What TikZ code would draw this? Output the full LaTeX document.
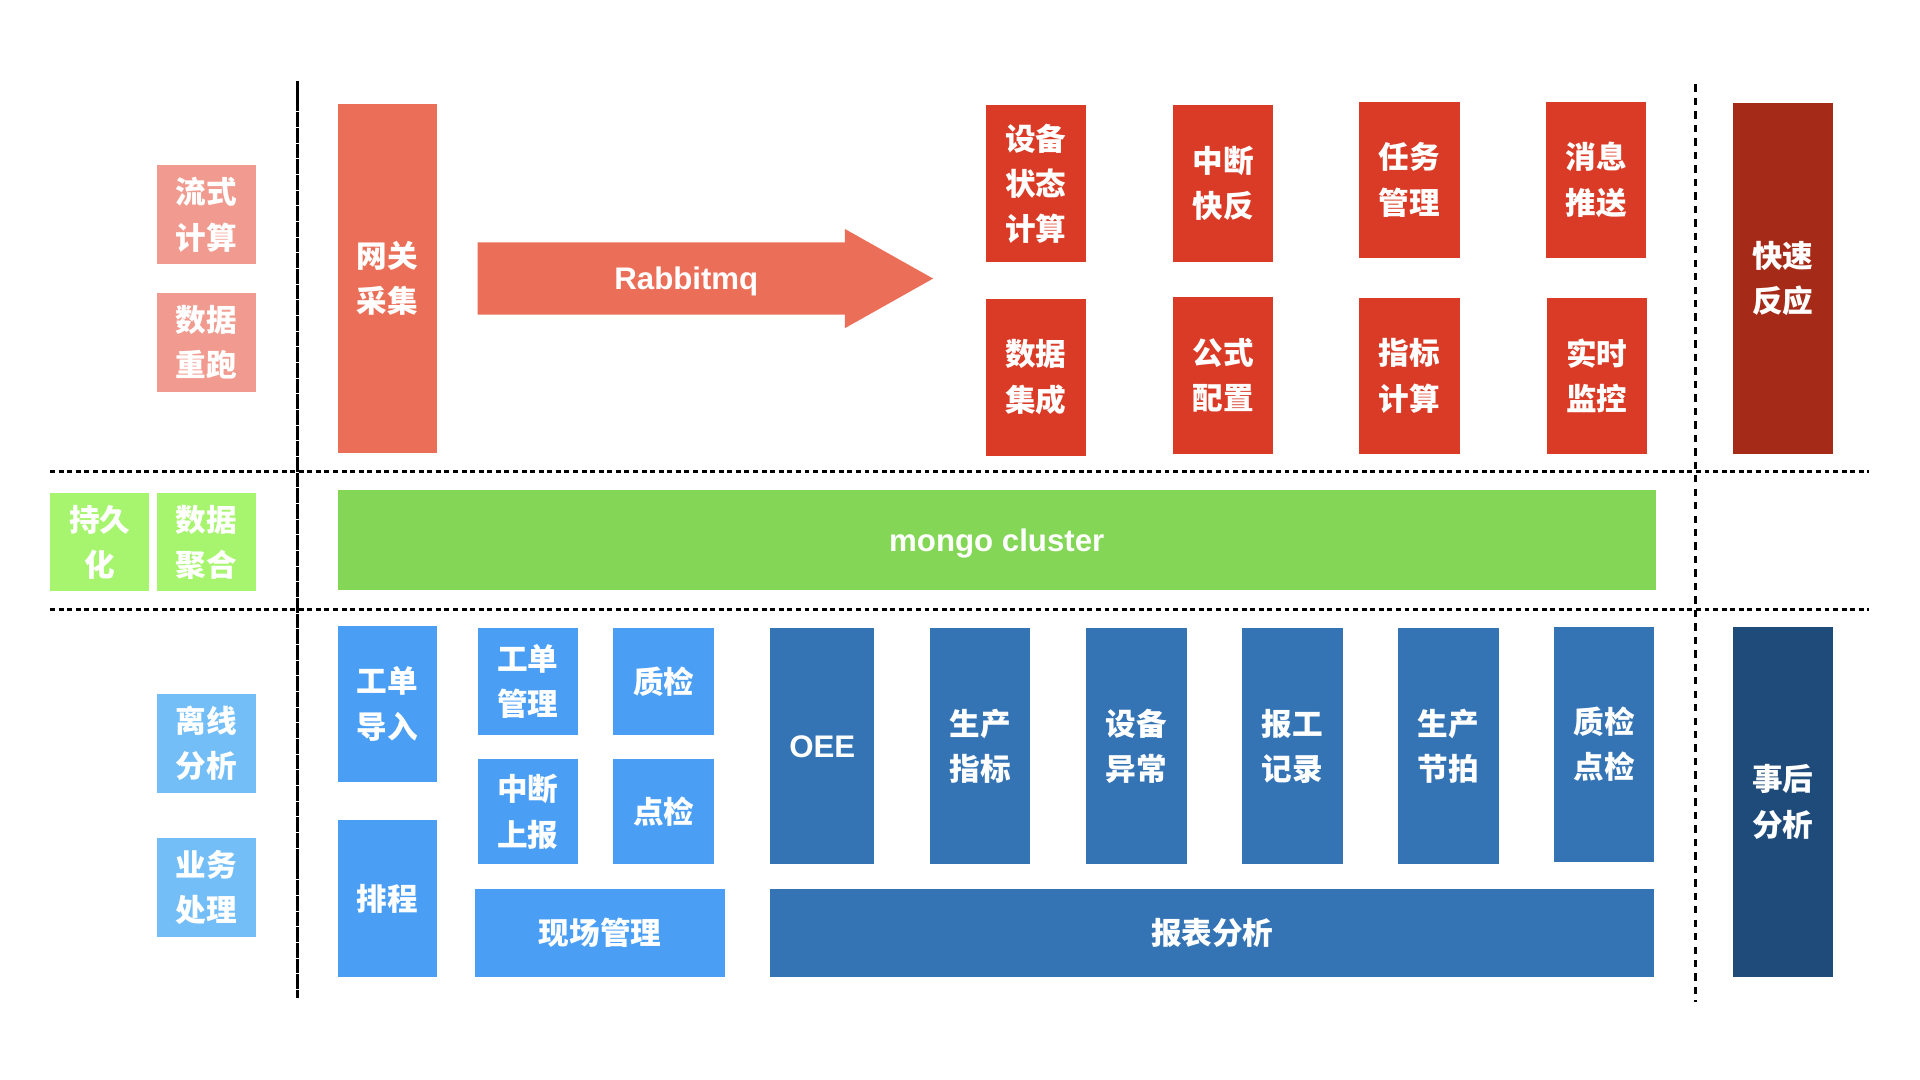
\documentclass[tikz,border=0pt]{standalone}
\usepackage{fontspec}
\usepackage{tikz}
\usepackage{xcolor}
\usetikzlibrary{calc}
\setmainfont{Liberation Sans}
\newfontfamily\cjk{Noto Sans CJK SC}
\definecolor{streamlight}{HTML}{F19B90}
\definecolor{gatewayred}{HTML}{EB6F58}
\definecolor{fastred}{HTML}{D93B27}
\definecolor{darkred}{HTML}{A52B18}
\definecolor{mongogreen}{HTML}{84D656}
\definecolor{storelight}{HTML}{A7F56F}
\definecolor{offlinelight}{HTML}{74BEF7}
\definecolor{bizblue}{HTML}{4A9FF5}
\definecolor{reportblue}{HTML}{3473B4}
\definecolor{darkblue}{HTML}{1F4B7B}
\tikzstyle{blockbox} = [
    rectangle,
    text=white,
    inner sep=0pt,
    align=center,
    minimum width=81pt,
    font=\cjk\bfseries\fontsize{25}{37}\selectfont
    ]
\tikzstyle{latinbox} = [
    blockbox,
    text height=18pt,
    text depth=0pt,
    font=\bfseries\fontsize{25.5}{30}\selectfont
    ]
\tikzstyle{hsep} = [line width=2.6pt, dash pattern=on 4pt off 3pt]
\tikzstyle{vsep} = [line width=2.4pt, dash pattern=on 6pt off 5pt]
\tikzstyle{axissep} = [line width=3pt, dash pattern=on 12pt off 0.8pt]

\begin{document}
\begin{tikzpicture}[x=1pt, y=-1pt]
\useasboundingbox (0,0) rectangle (1568,882);
% separators
\draw[axissep] (243,66) -- (243,815);
\draw[vsep] (1385,69) -- (1385,818);
\draw[hsep] (41,385) -- (1526,385);
\draw[hsep] (41,497.5) -- (1526,497.5);
% left labels
\node[blockbox, fill=streamlight, minimum height=81pt] (stream) at (168.5,175.5) {流式\\计算};
\node[blockbox, fill=streamlight, minimum height=81pt] (rerun) at (168.5,279.5) {数据\\重跑};
\node[blockbox, fill=storelight, minimum height=80pt] (persist) at (81.5,443) {持久\\化};
\node[blockbox, fill=storelight, minimum height=80pt] (aggregate) at (168.5,443) {数据\\聚合};
\node[blockbox, fill=offlinelight, minimum height=81pt] (offline) at (168.5,607) {离线\\分析};
\node[blockbox, fill=offlinelight, minimum height=81pt] (business) at (168.5,724.5) {业务\\处理};
% realtime layer
\node[blockbox, fill=gatewayred, minimum height=285pt] (gateway) at (316.5,227.5) {网关\\采集};
\fill[gatewayred] (390,198) -- (690,198) -- (690,187) -- (762,227.5) -- (690,268) -- (690,257) -- (390,257) -- cycle;
\node[latinbox] (rabbit) at (560.5,227.5) {Rabbitmq};
\node[blockbox, fill=fastred, minimum width=82pt, minimum height=128pt] (devstate) at (846,150) {设备\\状态\\计算};
\node[blockbox, fill=fastred, minimum width=82pt, minimum height=128pt] (quickfix) at (999,150) {中断\\快反};
\node[blockbox, fill=fastred, minimum width=82pt, minimum height=128pt] (task) at (1151,147) {任务\\管理};
\node[blockbox, fill=fastred, minimum width=82pt, minimum height=128pt] (push) at (1303.5,147) {消息\\推送};
\node[blockbox, fill=fastred, minimum width=82pt, minimum height=128pt] (integrate) at (846,308) {数据\\集成};
\node[blockbox, fill=fastred, minimum width=82pt, minimum height=128pt] (formula) at (999,306.5) {公式\\配置};
\node[blockbox, fill=fastred, minimum width=82pt, minimum height=128pt] (metric) at (1151,307) {指标\\计算};
\node[blockbox, fill=fastred, minimum width=82pt, minimum height=128pt] (monitor) at (1304,307) {实时\\监控};
\node[blockbox, fill=darkred, minimum width=82pt, minimum height=287pt] (fastresp) at (1456,227.5) {快速\\反应};
% storage layer
\node[latinbox, fill=mongogreen, minimum width=1076pt, minimum height=82pt] (mongo) at (814,441) {mongo cluster};
% offline layer
\node[blockbox, fill=bizblue, minimum height=128pt] (woimport) at (316.5,575) {工单\\导入};
\node[blockbox, fill=bizblue, minimum height=128pt] (schedule) at (316.5,734) {排程};
\node[blockbox, fill=bizblue, minimum width=82pt, minimum height=87pt] (womanage) at (431,556.5) {工单\\管理};
\node[blockbox, fill=bizblue, minimum width=82pt, minimum height=87pt] (quality) at (542,556.5) {质检};
\node[blockbox, fill=bizblue, minimum width=82pt, minimum height=86pt] (stopreport) at (431,663) {中断\\上报};
\node[blockbox, fill=bizblue, minimum width=82pt, minimum height=86pt] (spotcheck) at (542,663) {点检};
\node[blockbox, fill=bizblue, minimum width=204pt, minimum height=72pt] (site) at (490,762) {现场管理};
\node[latinbox, fill=reportblue, minimum width=85pt, minimum height=193pt] (oee) at (671.5,609.5) {OEE};
\node[blockbox, fill=reportblue, minimum width=82pt, minimum height=193pt] (prodkpi) at (800.5,609.5) {生产\\指标};
\node[blockbox, fill=reportblue, minimum width=82pt, minimum height=193pt] (devabnormal) at (928,609.5) {设备\\异常};
\node[blockbox, fill=reportblue, minimum width=82pt, minimum height=193pt] (workrecord) at (1055.5,609.5) {报工\\记录};
\node[blockbox, fill=reportblue, minimum width=82pt, minimum height=193pt] (taktime) at (1183,609.5) {生产\\节拍};
\node[blockbox, fill=reportblue, minimum width=82pt, minimum height=192pt] (qcspot) at (1310,608) {质检\\点检};
\node[blockbox, fill=reportblue, minimum width=722pt, minimum height=72pt] (reportana) at (990,762) {报表分析};
\node[blockbox, fill=darkblue, minimum width=82pt, minimum height=286pt] (postana) at (1456,655) {事后\\分析};
\end{tikzpicture}
\end{document}
